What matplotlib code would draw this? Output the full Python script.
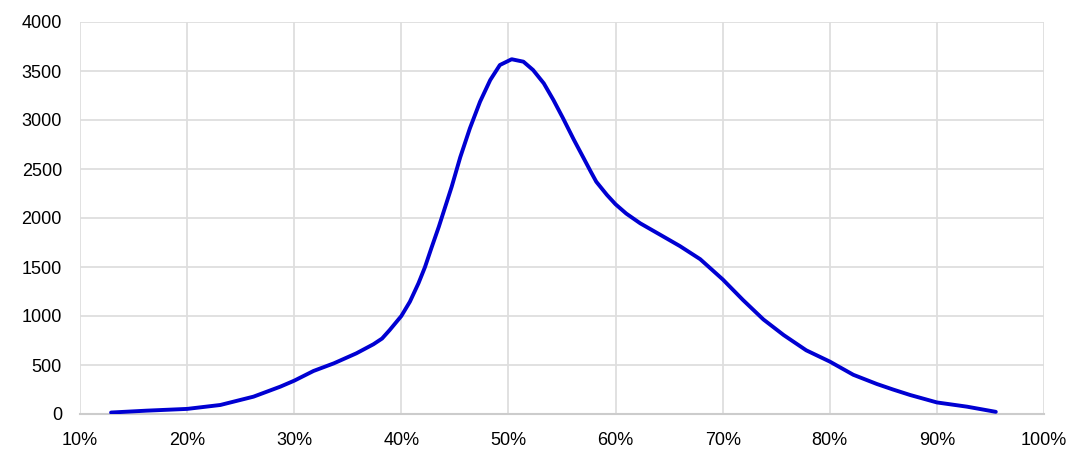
import matplotlib
matplotlib.use("Agg")
import matplotlib.pyplot as plt
from matplotlib.ticker import FuncFormatter

x_pct = [12.9, 16.2, 20.0, 23.1, 26.2, 28.7, 30.0, 31.8, 33.7, 35.8, 37.4, 38.2,
         38.9, 40.0, 40.8, 41.6, 42.2, 42.8, 43.5, 44.1, 44.7, 45.5, 46.4, 47.35,
         48.3, 49.2, 50.3, 51.4, 52.3, 53.3, 54.2, 55.1, 56.1, 57.0, 57.7, 58.2,
         59.2, 60.0, 61.0, 62.3, 64.2, 66.0, 67.9, 70.0, 71.9, 73.8, 75.7, 77.8,
         80.0, 82.2, 84.4, 85.9, 87.5, 90.0, 92.8, 95.5]
values = [15, 34, 52, 92, 177, 279, 340, 439, 517, 619, 712, 770,
          855, 1000, 1146, 1334, 1497, 1691, 1911, 2115, 2319, 2620, 2915, 3187,
          3408, 3561, 3620, 3595, 3510, 3374, 3204, 3017, 2800, 2615, 2470, 2370,
          2235, 2140, 2045, 1946, 1827, 1714, 1580, 1374, 1163, 965, 805, 650,
          535, 400, 306, 250, 194, 118, 75, 22]
x_ticks = [10, 20, 30, 40, 50, 60, 70, 80, 90, 100]
y_ticks = [0, 500, 1000, 1500, 2000, 2500, 3000, 3500, 4000]

plt.rcParams['font.family'] = ['Liberation Sans', 'DejaVu Sans']

fig = plt.figure(figsize=(10.8, 4.59), dpi=100)
ax = fig.add_axes([80/1080, 45/459, 964/1080, 392/459])

ax.plot(x_pct, values, color='#0000d2', lw=2.8, solid_capstyle='round',
        solid_joinstyle='round', zorder=3)

ax.set_xlim(10, 100)
ax.set_ylim(0, 4000)
ax.set_xticks(x_ticks)
ax.set_yticks(y_ticks)
ax.xaxis.set_major_formatter(FuncFormatter(lambda v, p: f"{int(v)}%"))
ax.grid(True, color='#dedede', lw=1.3, zorder=0)
for s in ['top', 'right', 'left']:
    ax.spines[s].set_visible(False)
ax.spines['bottom'].set_color('#cccccc')
ax.spines['bottom'].set_linewidth(1.5)
ax.tick_params(axis='both', length=0, labelsize=13, colors='black')
ax.tick_params(axis='x', pad=13)
ax.tick_params(axis='y', pad=13)
ax.set_axisbelow(True)

fig.savefig('out.png', dpi=100)
